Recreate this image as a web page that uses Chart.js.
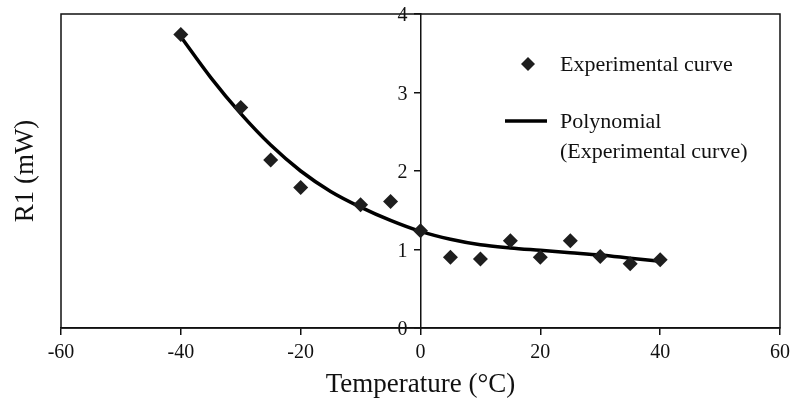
<!DOCTYPE html>
<html>
<head>
<meta charset="utf-8">
<script src="https://cdn.jsdelivr.net/npm/chart.js@4/dist/chart.umd.min.js"></script>
<style>
  html, body { margin: 0; padding: 0; background: #fff; }
  #chart { display: block; }
</style>
</head>
<body>
<canvas id="chart" width="793" height="401"></canvas>
<script>
// measured points (temperature, R1)
const temps = [-40, -30, -25, -20, -10, -5, 0, 5, 10, 15, 20, 25, 30, 35, 40];
const r1 = [3.74, 2.81, 2.14, 1.79, 1.57, 1.61, 1.24, 0.90, 0.88, 1.11, 0.90, 1.11, 0.91, 0.82, 0.87];

// trend line
const fitTemps = [-40, -35, -30, -25, -20, -15, -10, -5, 0, 5, 10, 15, 20, 25, 30, 35, 40];
const fitR1 = [3.71, 3.19, 2.73, 2.33, 2.00, 1.74, 1.54, 1.37, 1.23, 1.13, 1.06, 1.02, 0.99, 0.96, 0.93, 0.89, 0.85];

const xTicks = [-60, -40, -20, 0, 20, 40, 60];
const yTicks = [0, 1, 2, 3, 4];

const pointLabel = "Experimental curve";
const lineLabel = ["Polynomial", "(Experimental curve)"];

const serif = "'Liberation Serif', 'Times New Roman', serif";
Chart.defaults.font.family = serif;
Chart.defaults.color = "#111";

// box round the plot area
const frame = {
    id: "frame",
    beforeDatasetsDraw(chart) {
        const { ctx, chartArea: a } = chart;
        ctx.save();
        ctx.strokeStyle = "#111";
        ctx.lineWidth = 1.5;
        ctx.strokeRect(a.left, a.top, a.right - a.left, a.bottom - a.top);
        ctx.restore();
    },
};

// the y axis sits at x = 0, chart.js puts its labels right on the line, so draw them a bit to the left
const centreLabels = {
    id: "centreLabels",
    afterDraw(chart) {
        const { ctx } = chart;
        const ys = chart.scales.y;
        const axisX = chart.scales.x.getPixelForValue(0);
        ctx.save();
        ctx.font = "20px " + serif;
        ctx.fillStyle = "#111";
        ctx.textAlign = "right";
        ctx.textBaseline = "middle";
        ys.ticks.forEach((t) => ctx.fillText(String(t.value), axisX - 13, ys.getPixelForValue(t.value) + 2));
        ctx.restore();
    },
};

// legend inside the plot, top right
const insideLegend = {
    id: "insideLegend",
    afterDraw(chart) {
        const { ctx, chartArea: a } = chart;
        const pts = chart.data.datasets[0];
        const fit = chart.data.datasets[1];
        const textX = a.right - 220;
        ctx.save();
        ctx.font = "22px " + serif;
        ctx.textBaseline = "middle";

        ctx.fillStyle = pts.backgroundColor;
        Chart.helpers.drawPoint(ctx, { pointStyle: "rectRot", radius: 7, borderWidth: 0 }, a.right - 252, a.top + 50);
        ctx.fillStyle = "#111";
        ctx.fillText(pointLabel, textX, a.top + 51);

        ctx.strokeStyle = fit.borderColor;
        ctx.lineWidth = fit.borderWidth;
        ctx.beginPath();
        ctx.moveTo(a.right - 275, a.top + 107);
        ctx.lineTo(a.right - 233, a.top + 107);
        ctx.stroke();
        lineLabel.forEach((t, i) => ctx.fillText(t, textX, a.top + 108 + i * 30));
        ctx.restore();
    },
};

const config = {
    type: "scatter",
    data: {
        datasets: [
            {
                label: pointLabel,
                data: temps.map((t, i) => ({ x: t, y: r1[i] })),
                pointStyle: "rectRot",
                pointRadius: 7.5,
                pointBorderWidth: 0,
                backgroundColor: "#1e1e1e",
                borderColor: "#1e1e1e",
            },
            {
                label: lineLabel.join(" "),
                data: fitTemps.map((t, i) => ({ x: t, y: fitR1[i] })),
                showLine: true,
                pointRadius: 0,
                borderColor: "#000",
                borderWidth: 3.5,
                tension: 0.4,
                cubicInterpolationMode: "monotone",
            },
        ],
    },
    options: {
        responsive: false,
        animation: false,
        devicePixelRatio: 1,
        layout: { padding: { top: 14, right: 13, bottom: 0, left: 0 } },
        plugins: {
            legend: { display: false },
            tooltip: { enabled: false },
        },
        scales: {
            x: {
                type: "linear",
                min: -60,
                max: 60,
                afterBuildTicks: (s) => { s.ticks = xTicks.map((v) => ({ value: v })); },
                afterFit: (s) => {
                    s.height = 73;
                    s.paddingLeft = 0;
                    s.paddingRight = 0;
                },
                grid: { drawOnChartArea: false, drawTicks: true, tickLength: 7, color: "#111", lineWidth: 1.5 },
                border: { display: true, color: "#111", width: 1.5 },
                ticks: { font: { size: 20 }, padding: 6, color: "#111", maxRotation: 0 },
                title: { display: true, text: "Temperature (°C)", font: { size: 27 }, padding: 0, color: "#111" },
            },
            y: {
                type: "linear",
                min: 0,
                max: 4,
                position: { x: 0 },
                afterBuildTicks: (s) => { s.ticks = yTicks.map((v) => ({ value: v })); },
                grid: { drawOnChartArea: false, drawTicks: true, tickLength: 6, color: "#111", lineWidth: 1.5 },
                border: { display: true, color: "#111", width: 1.5 },
                ticks: { display: false },
            },
            yTitle: {
                type: "linear",
                min: 0,
                max: 4,
                position: "left",
                afterFit: (s) => { s.width = 61; },
                grid: { display: false },
                border: { display: false },
                ticks: { display: false },
                title: { display: true, text: "R1 (mW)", font: { size: 27 }, padding: { top: 10, bottom: 0 }, color: "#111" },
            },
        },
    },
    plugins: [frame, centreLabels, insideLegend],
};

const chart = new Chart(document.getElementById("chart"), config);
</script>
</body>
</html>
